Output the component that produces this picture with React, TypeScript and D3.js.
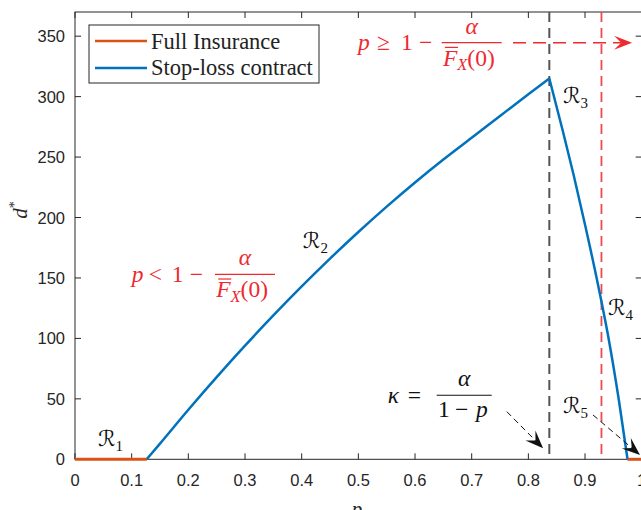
import React from "react";
import * as d3 from "d3";

// ---- data ----
const fullLeftP = [0, 0.1265];
const fullLeftD = [0, 0];
const fullRightP = [0.975, 1.0];
const fullRightD = [0, 0];

// rising branch (region R2) up to the kink at kappa
const riseP = [0.1265, 0.15, 0.2, 0.25, 0.3, 0.35, 0.4, 0.45, 0.5, 0.55, 0.6, 0.65, 0.7, 0.75, 0.8, 0.837];
const riseD = [0, 13, 41, 68, 94, 119, 143, 166, 188, 209, 229, 248, 266, 284, 302, 315];
// falling branch (regions R3-R4)
const fallP = [0.837, 0.86, 0.88, 0.9, 0.92, 0.94, 0.96, 0.975];
const fallD = [315, 273, 235, 194, 151, 104, 48, 0];

const xTicks = [0, 0.1, 0.2, 0.3, 0.4, 0.5, 0.6, 0.7, 0.8, 0.9, 1];
const xTickLabels = ["0", "0.1", "0.2", "0.3", "0.4", "0.5", "0.6", "0.7", "0.8", "0.9", "1"];
const yTicks = [0, 50, 100, 150, 200, 250, 300, 350];
const yTickLabels = ["0", "50", "100", "150", "200", "250", "300", "350"];

const kappaP = 0.837; // black dashed vertical
const thresholdP = 0.929; // red dashed vertical

const legendLabels = ["Full Insurance", "Stop-loss contract"];

const BLUE = "#0072BD";
const ORANGE = "#D95319";
const RED = "#ee2a2f";
const AX = "#262626";

const W = 641, H = 510;
const L = 75, T = 12, R = 641.7, B = 459.3;

const x = d3.scaleLinear().domain([0, 1]).range([L, R]);
const y = d3.scaleLinear().domain([0, 370]).range([B, T]);

const serif = "'Liberation Serif', 'Times New Roman', serif";
const sans = "'Liberation Sans', Arial, Helvetica, sans-serif";
const scriptFont = "'DejaVu Serif', 'DejaVu Sans', serif";
const MS = 23.5; // math font size

function pts(ps: number[], ds: number[]): [number, number][] {
  return ps.map((p, i) => [p, ds[i]]);
}

const line = d3.line<[number, number]>().x(d => x(d[0])).y(d => y(d[1]));
const smooth = d3.line<[number, number]>().x(d => x(d[0])).y(d => y(d[1])).curve(d3.curveMonotoneX);

function RLabel({ p, d, sub }: { p: number; d: number; sub: string }) {
  return (
    <text x={x(p)} y={y(d)} fontFamily={scriptFont} fontSize={22} fill="#111" fontStyle="italic">
      ℛ<tspan fontSize={15} dy={5} fontFamily={serif} fontStyle="normal">{sub}</tspan>
    </text>
  );
}

// tokens placed at explicit x offsets, like TeX spacing
function Tokens({ x0, baseline, items, color }: { x0: number; baseline: number; items: [string, number, boolean][]; color: string }) {
  return (
    <g fill={color}>
      {items.map(([s, dx, it], i) => (
        <text key={i} x={x0 + dx} y={baseline} fontFamily={serif} fontSize={MS} fontStyle={it ? "italic" : "normal"}>{s}</text>
      ))}
    </g>
  );
}

function FbarX({ cx, baseline, color, size }: { cx: number; baseline: number; color: string; size: number }) {
  const w = size * 2.45;
  const x0 = cx - w / 2;
  return (
    <g fill={color}>
      <text x={x0} y={baseline} fontFamily={serif} fontSize={size}>
        <tspan fontStyle="italic">F</tspan>
        <tspan fontStyle="italic" fontSize={size * 0.7} dy={size * 0.18}>X</tspan>
        <tspan dy={-size * 0.18}>(0)</tspan>
      </text>
      <line x1={x0 + 2} x2={x0 + size * 0.64} y1={baseline - size * 0.78} y2={baseline - size * 0.78} stroke={color} strokeWidth={1.2} />
    </g>
  );
}

function Arrow({ p1, d1, p2, d2, color, dash, width, headLen, headW }: any) {
  const x1 = x(p1), y1 = y(d1), x2 = x(p2), y2 = y(d2);
  const ang = Math.atan2(y2 - y1, x2 - x1);
  const ux = Math.cos(ang), uy = Math.sin(ang);
  const nx = -uy, ny = ux;
  const bx = x2 - ux * headLen, by = y2 - uy * headLen;
  const mx = x2 - ux * headLen * 0.6, my = y2 - uy * headLen * 0.6;
  const head = [
    [x2, y2],
    [bx + nx * headW / 2, by + ny * headW / 2],
    [mx, my],
    [bx - nx * headW / 2, by - ny * headW / 2],
  ].map(p => p.join(",")).join(" ");
  return (
    <g>
      <line x1={x1} y1={y1} x2={mx} y2={my} stroke={color} strokeWidth={width} strokeDasharray={dash} />
      <polygon points={head} fill={color} />
    </g>
  );
}

export default function App() {
  const legendRows = [
    { label: legendLabels[0], color: ORANGE },
    { label: legendLabels[1], color: BLUE },
  ];
  const yLow = y(153), yHigh = y(344.6), yK = y(53);
  return (
    <svg width={W} height={H} style={{ position: "absolute", left: 0, top: 0, background: "#fff" }}>
      <rect x={0} y={0} width={W} height={H} fill="#fff" />
      <rect x={L} y={T} width={R - L} height={B - T} fill="none" stroke={AX} strokeWidth={1} />
      {xTicks.map((t, i) => (
        <g key={"xt" + i}>
          <line x1={x(t)} x2={x(t)} y1={B} y2={B - 6} stroke={AX} />
          <line x1={x(t)} x2={x(t)} y1={T} y2={T + 6} stroke={AX} />
          <text x={x(t)} y={486} textAnchor="middle" fontFamily={sans} fontSize={16.5} fill={AX}>{xTickLabels[i]}</text>
        </g>
      ))}
      {yTicks.map((t, i) => (
        <g key={"yt" + i}>
          <line x1={L} x2={L + 6} y1={y(t)} y2={y(t)} stroke={AX} />
          <line x1={R} x2={R - 6} y1={y(t)} y2={y(t)} stroke={AX} />
          <text x={65} y={y(t) + 6} textAnchor="end" fontFamily={sans} fontSize={16.5} fill={AX}>{yTickLabels[i]}</text>
        </g>
      ))}
      <text x={357} y={516} textAnchor="middle" fontFamily={serif} fontStyle="italic" fontSize={21} fill={AX}>p</text>
      <text transform="translate(27,210) rotate(-90)" textAnchor="middle" fontFamily={serif} fontStyle="italic" fontSize={21} fill={AX}>
        d<tspan fontSize={14} dy={-8} fontStyle="normal">*</tspan>
      </text>

      <line x1={x(kappaP)} x2={x(kappaP)} y1={T} y2={B} stroke="#555" strokeWidth={2} strokeDasharray="10,6" />
      <line x1={x(thresholdP)} x2={x(thresholdP)} y1={T} y2={B} stroke="#ee4a4f" strokeWidth={1.8} strokeDasharray="10,6" />

      <path d={smooth(pts(riseP, riseD)) || ""} fill="none" stroke={BLUE} strokeWidth={2.5} strokeLinejoin="round" />
      <path d={smooth(pts(fallP, fallD)) || ""} fill="none" stroke={BLUE} strokeWidth={2.5} strokeLinejoin="round" />
      <path d={line(pts(fullLeftP, fullLeftD)) || ""} fill="none" stroke={ORANGE} strokeWidth={3} />
      <path d={line(pts(fullRightP, fullRightD)) || ""} fill="none" stroke={ORANGE} strokeWidth={3} />

      <RLabel p={0.0406} d={11} sub="1" />
      <RLabel p={0.402} d={175} sub="2" />
      <RLabel p={0.861} d={295} sub="3" />
      <RLabel p={0.9405} d={119.5} sub="4" />
      <RLabel p={0.861} d={38} sub="5" />

      {/* p < 1 - alpha / Fbar_X(0) */}
      <Tokens x0={x(0.1)} baseline={yLow + 7.5} color={RED}
        items={[["p", 0, true], ["<", 17, false], ["1", 40, false], ["−", 58, false]]} />
      <line x1={215} x2={275} y1={yLow} y2={yLow} stroke={RED} strokeWidth={1.2} />
      <text x={245} y={yLow - 9} textAnchor="middle" fontFamily={serif} fontStyle="italic" fontSize={MS} fill={RED}>α</text>
      <FbarX cx={245} baseline={yLow + 23} color={RED} size={MS} />

      {/* p >= 1 - alpha / Fbar_X(0) */}
      <Tokens x0={x(0.4994)} baseline={yHigh + 7.5} color={RED}
        items={[["p", 0, true], ["≥", 19, false], ["1", 43, false], ["−", 61, false]]} />
      <line x1={441.7} x2={501.7} y1={yHigh} y2={yHigh} stroke={RED} strokeWidth={1.2} />
      <text x={471.7} y={yHigh - 9} textAnchor="middle" fontFamily={serif} fontStyle="italic" fontSize={MS} fill={RED}>α</text>
      <FbarX cx={471.7} baseline={yHigh + 23} color={RED} size={MS} />
      <Arrow p1={0.773} d1={344.6} p2={0.983} d2={344.6} color={RED} dash="13,7" width={1.5} headLen={18} headW={14} />

      {/* kappa = alpha / (1 - p) */}
      <Tokens x0={x(0.552)} baseline={yK + 7.5} color="#111"
        items={[["κ", 0, true], ["=", 20, false]]} />
      <line x1={436.7} x2={491.7} y1={yK} y2={yK} stroke="#111" strokeWidth={1.2} />
      <text x={464.2} y={yK - 9} textAnchor="middle" fontFamily={serif} fontStyle="italic" fontSize={MS} fill="#111">α</text>
      <Tokens x0={438} baseline={yK + 22} color="#111"
        items={[["1", 0, false], ["−", 17, false], ["p", 38, true]]} />
      <Arrow p1={0.762} d1={39.4} p2={0.826} d2={9.1} color="#111" dash="6,4" width={1} headLen={18} headW={14} />
      <Arrow p1={0.914} d1={36.7} p2={0.997} d2={3.6} color="#111" dash="6,4" width={1} headLen={18} headW={14} />

      <rect x={89} y={25} width={230} height={58} fill="#fff" stroke={AX} strokeWidth={1} />
      {legendRows.map((r, i) => (
        <g key={"lg" + i}>
          <line x1={95} x2={147} y1={41 + i * 27} y2={41 + i * 27} stroke={r.color} strokeWidth={2.5} />
          <text x={151} y={49 + i * 26} fontFamily={serif} fontSize={22.5} fill="#222">{r.label}</text>
        </g>
      ))}
    </svg>
  );
}
